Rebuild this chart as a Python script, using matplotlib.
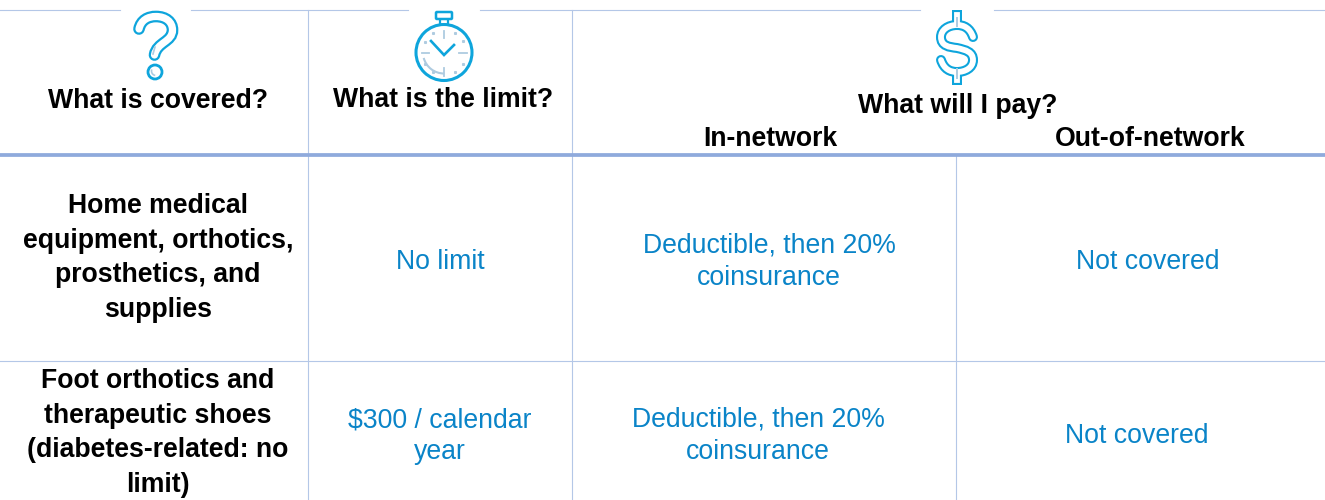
import matplotlib
matplotlib.use('Agg')
import numpy as np
import matplotlib.pyplot as plt
from matplotlib.path import Path
from matplotlib.patches import Circle, Arc, FancyBboxPatch, PathPatch

W, H = 1325, 500
LINE = '#b4c7e7'
HEAVY = '#8faadc'
ICON = '#0ea5dc'
FAINT = '#aecbe0'
BLUE = '#0a84c8'
FS = 19.2

plt.rcParams['font.family'] = ['Liberation Sans', 'DejaVu Sans']

header_labels = ['What is covered?', 'What is the limit?', 'What will I pay?', 'In-network', 'Out-of-network']
header_x = [158, 443, 958, 770, 1150]
header_y = [101, 100, 106, 139, 139]

row_labels = ['Home medical\nequipment, orthotics,\nprosthetics, and\nsupplies',
              'Foot orthotics and\ntherapeutic shoes\n(diabetes-related: no\nlimit)']
row_y = [258, 433]
blue_y = [262, 436]
limits = ['No limit', '$300 / calendar\nyear']
in_network = ['Deductible, then 20%\ncoinsurance', 'Deductible, then 20%\ncoinsurance']
out_network = ['Not covered', 'Not covered']


def curve(points):
    # first point is the start, the rest come in threes as cubic segments
    codes = [Path.MOVETO] + [Path.CURVE4] * (len(points) - 1)
    return Path(points, codes)


def hollow(ax, paths, outer=8.4, inner=5.2, cap='round'):
    for p in paths:
        ax.add_patch(PathPatch(p, fill=False, ec=ICON, lw=outer, capstyle=cap, zorder=4))
    for p in paths:
        ax.add_patch(PathPatch(p, fill=False, ec='white', lw=inner, capstyle=cap, zorder=5))


fig = plt.figure(figsize=(W / 100, H / 100), dpi=100)
ax = fig.add_axes([0, 0, 1, 1])
ax.set_xlim(0, W)
ax.set_ylim(H, 0)
ax.axis('off')

# grid
for x0, x1 in [(0, 120), (191, 408), (480, 920), (994, W)]:
    ax.plot([x0, x1], [10, 10], color=LINE, lw=0.8)
for x, y0, y1 in [(308, 10, H), (572, 10, H), (956, 155, H)]:
    ax.plot([x, x], [y0, y1], color=LINE, lw=0.8)
ax.plot([0, W], [361, 361], color=LINE, lw=0.8)
ax.plot([0, W], [155, 155], color=HEAVY, lw=2.7, solid_capstyle='butt', zorder=3)

# header and body text
for label, x, y in zip(header_labels, header_x, header_y):
    ax.text(x, y, label, ha='center', va='center', fontsize=FS, fontweight='bold', color='black')
for label, y in zip(row_labels, row_y):
    ax.text(158, y, label, ha='center', va='center', fontsize=FS, fontweight='bold',
            color='black', linespacing=1.42)
for label, y in zip(limits, blue_y):
    ax.text(440, y, label, ha='center', va='center', fontsize=FS, color=BLUE, linespacing=1.28)
for label, x, y in zip(in_network, [769, 758], blue_y):
    ax.text(x, y, label, ha='center', va='center', fontsize=FS, color=BLUE, linespacing=1.3)
for label, x, y in zip(out_network, [1148, 1137], blue_y):
    ax.text(x, y, label, ha='center', va='center', fontsize=FS, color=BLUE)

# question mark icon
hook = curve([(139, 29), (141, 20), (148, 16.5), (156, 16.5),
              (166, 16.5), (172.5, 22), (172.5, 30),
              (172.5, 42), (157, 42), (154.5, 55)])
hollow(ax, [hook])
ax.add_patch(Circle((155, 72), 7, fc='white', ec=ICON, lw=2, zorder=4))
ax.add_patch(Arc((156, 71), 9, 9, theta1=100, theta2=200, color=FAINT, lw=1.2, zorder=6))
ax.plot([153, 155], [54, 47], color=FAINT, lw=1.2, zorder=6)

# stopwatch icon
cx, cy, r = 444, 52.5, 28
ax.add_patch(Circle((cx, cy), r, fill=False, ec=ICON, lw=2.2))
ax.add_patch(FancyBboxPatch((437, 13), 14, 5, boxstyle='round,pad=1', fill=False, ec=ICON, lw=1.8))
ax.plot([440, 440], [20, 24], color=ICON, lw=1.6)
ax.plot([448, 448], [20, 24], color=ICON, lw=1.6)
ax.plot([431, cx, 454], [41, 55, 45], color=ICON, lw=1.9, solid_joinstyle='miter')
for x0, y0, x1, y1 in [(cx, 31, cx, 38), (cx, 68, cx, 76), (422, 52.5, 429, 52.5), (459, 52.5, 467, 52.5)]:
    ax.plot([x0, x1], [y0, y1], color=FAINT, lw=1.3)
for deg in [30, 60, 120, 150, 210, 240, 300, 330]:
    a = np.deg2rad(deg)
    ax.plot([cx + 22 * np.cos(a)], [cy + 22 * np.sin(a)], 's', color=FAINT, ms=1.2)
ax.add_patch(Arc((cx, cy), 42, 42, theta1=90, theta2=165, color=FAINT, lw=1.5))

# dollar icon
s_curve = curve([(973, 37), (970, 28), (964, 25), (957, 25),
                 (948, 25), (941, 30), (941, 37),
                 (941, 46), (949, 47), (957, 48),
                 (966, 50), (973, 52), (973, 60),
                 (973, 68), (965, 72), (957, 72),
                 (950, 72), (944, 69), (941, 60)])
hollow(ax, [s_curve], outer=7.2, inner=4.2)
stem_top = Path([(957, 15), (957, 22)])
stem_bottom = Path([(957, 74), (957, 80)])
hollow(ax, [stem_top, stem_bottom], outer=7.2, inner=4.2, cap='projecting')
ax.plot([957, 957], [18, 26], color=FAINT, lw=1.4, zorder=6)
ax.plot([957, 957], [69, 78], color=FAINT, lw=1.4, zorder=6)

fig.savefig('out.png', dpi=100)
